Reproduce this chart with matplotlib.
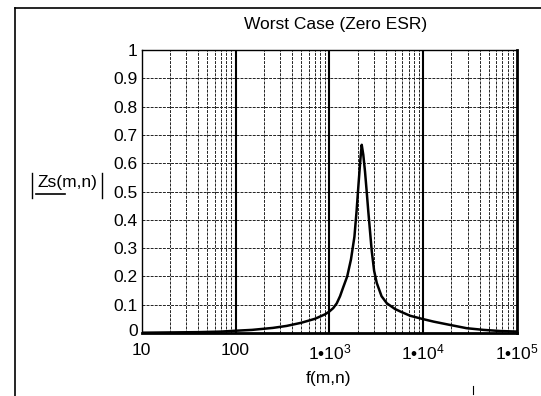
import matplotlib
matplotlib.use('Agg')
import matplotlib.pyplot as plt
from matplotlib.lines import Line2D
from matplotlib.ticker import FixedLocator, NullFormatter
from matplotlib.transforms import ScaledTranslation

plt.rcParams['font.family'] = ['Liberation Sans', 'DejaVu Sans']
plt.rcParams['mathtext.fontset'] = 'custom'
plt.rcParams['mathtext.rm'] = 'Liberation Sans'
plt.rcParams['mathtext.default'] = 'regular'

# values
freq = [10, 20, 40, 70, 100, 150, 250, 350, 500, 700, 900, 1000, 1100, 1200,
        1300, 1400, 1550, 1700, 1850, 1950, 2050, 2150, 2213, 2300, 2400,
        2500, 2600, 2830, 3000, 3200, 3600, 4100, 5000, 5700, 7250, 10000,
        13000, 19000, 29000, 44000, 66000, 100000]
zs = [0.001, 0.002, 0.003, 0.005, 0.008, 0.011, 0.018, 0.025, 0.036, 0.05,
      0.066, 0.076, 0.088, 0.105, 0.13, 0.16, 0.2, 0.26, 0.34, 0.43, 0.53,
      0.62, 0.665, 0.63, 0.57, 0.5, 0.43, 0.29, 0.22, 0.177, 0.13, 0.105,
      0.085, 0.076, 0.061, 0.049, 0.04, 0.029, 0.017, 0.011, 0.007, 0.005]

x_ticks = [10, 100, 1e3, 1e4, 1e5]
x_labels = ['10', '100', '1•10$^3$', '1•10$^4$', '1•10$^5$']
y_ticks = [0, 0.1, 0.2, 0.3, 0.4, 0.5, 0.6, 0.7, 0.8, 0.9, 1.0]
y_labels = ['0', '0.1', '0.2', '0.3', '0.4', '0.5', '0.6', '0.7', '0.8', '0.9', '1']

W, H = 541, 396
fs = 12.5
fig = plt.figure(figsize=(W / 100, H / 100), dpi=100)
ax = fig.add_axes([141.7 / W, 1 - 333 / H, (517 - 141.7) / W, (333 - 50) / H])

ax.set_xscale('log')
ax.set_xlim(10, 1e5)
ax.set_ylim(0, 1)

minors = [m * 10 ** e for e in range(1, 5) for m in range(2, 10)]
ax.xaxis.set_minor_locator(FixedLocator(minors))
ax.xaxis.set_minor_formatter(NullFormatter())
ax.set_xticks(x_ticks)
ax.set_xticklabels(x_labels, fontsize=fs)
ax.set_yticks(y_ticks)
ax.set_yticklabels(y_labels, fontsize=fs)
ax.tick_params(axis='both', which='both', length=0, pad=3)
ax.tick_params(axis='x', pad=7)
# the bottom "0" sits a little above the axis line in the scan
lab0 = ax.get_yticklabels()[0]
lab0.set_transform(lab0.get_transform() + ScaledTranslation(0, 3 / 100, fig.dpi_scale_trans))

dash = (0, (3, 1.2))
ax.grid(True, which='minor', axis='x', color='#222222', lw=0.7, ls=dash)
ax.grid(True, which='major', axis='y', color='#222222', lw=0.7, ls=dash)
for xv in x_ticks[1:-1]:
    ax.axvline(xv, color='black', lw=1.5)

for side in ['left', 'top']:
    ax.spines[side].set_linewidth(1.0)
for side in ['right', 'bottom']:
    ax.spines[side].set_linewidth(2.0)

ax.plot(freq, zs, color='black', lw=1.8, zorder=5)

fig.text(336 / W, 1 - 24 / H, 'Worst Case (Zero ESR)', ha='center', va='center', fontsize=fs)
fig.text(328 / W, 1 - 378 / H, 'f(m,n)', ha='center', va='center', fontsize=fs)

# |Zs(m,n)| label with underline and bars
fig.text(67.5 / W, 1 - 183 / H, 'Zs(m,n)', ha='center', va='center', fontsize=fs)
fig.add_artist(Line2D([36 / W, 65 / W], [1 - 194 / H, 1 - 194 / H], color='black', lw=1.2))
for bx in [32, 102]:
    fig.add_artist(Line2D([bx / W, bx / W], [1 - 173 / H, 1 - 198 / H], color='black', lw=1.0))

# scan frame
fig.add_artist(Line2D([15 / W, 15 / W], [0, 1 - 8 / H], color='black', lw=1.2))
fig.add_artist(Line2D([15 / W, 1], [1 - 8 / H, 1 - 8 / H], color='black', lw=1.2))
fig.add_artist(Line2D([473 / W, 473 / W], [1 - 386 / H, 1 - 394 / H], color='black', lw=0.8))

fig.savefig('out.png', dpi=100)
